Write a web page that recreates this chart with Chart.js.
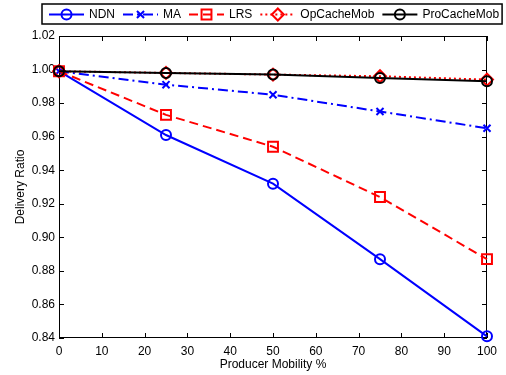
<!DOCTYPE html>
<html>
<head>
<meta charset="utf-8">
<script src="https://cdn.jsdelivr.net/npm/chart.js@4/dist/chart.umd.min.js"></script>
<style>
  html, body { margin: 0; padding: 0; background: #fff; }
  #wrap { width: 506px; height: 375px; }
</style>
</head>
<body>
<div id="wrap"><canvas id="grafico" width="506" height="375"></canvas></div>
<script>
// ================= DATOS =================
const movilidad = [0, 25, 50, 75, 100];
const ndn = [0.999, 0.961, 0.932, 0.887, 0.841];
const ma = [0.999, 0.991, 0.985, 0.975, 0.965];
const lrs = [0.999, 0.973, 0.954, 0.924, 0.887];
const opCacheMob = [0.999, 0.998, 0.997, 0.996, 0.994];
const proCacheMob = [0.999, 0.998, 0.997, 0.995, 0.993];
const xTicks = [0, 10, 20, 30, 40, 50, 60, 70, 80, 90, 100];
const yTicks = [0.84, 0.86, 0.88, 0.90, 0.92, 0.94, 0.96, 0.98, 1.00, 1.02];

const FUENTE = "'Liberation Sans', Arial, Helvetica, sans-serif";

function serie(nombre, valores, color, estilo, radio, dash, orden) {
    return {
        label: nombre,
        data: movilidad.map((x, i) => ({ x, y: valores[i] })),
        borderColor: color,
        borderWidth: 2,
        borderDash: dash,
        pointStyle: estilo,
        pointRadius: radio,
        pointHoverRadius: radio,
        pointBorderColor: color,
        pointBackgroundColor: "rgba(0,0,0,0)",
        pointBorderWidth: 2,
        fill: false,
        tension: 0,
        clip: false,
        order: orden
    };
}

const datasets = [
    serie("NDN", ndn, "#0000ff", "circle", 5, [], 4),
    serie("MA", ma, "#0000ff", "crossRot", 5, [10, 4, 2, 4], 3),
    serie("LRS", lrs, "#ff0000", "rect", 7, [9, 5], 2),
    serie("OpCacheMob", opCacheMob, "#ff0000", "rectRot", 6, [2, 3], 1),
    serie("ProCacheMob", proCacheMob, "#000000", "circle", 5, [], 0)
];

// marco con ticks hacia adentro + leyenda estilo MATLAB
const marcoMatlab = {
    id: "marcoMatlab",
    beforeDatasetsDraw(chart) {
        const { ctx, chartArea: a, scales } = chart;
        ctx.save();
        ctx.strokeStyle = "#000";
        ctx.lineWidth = 1;
        ctx.setLineDash([]);
        ctx.strokeRect(a.left + 0.5, a.top + 0.5, a.right - a.left - 1, a.bottom - a.top - 1);
        const L = 5;
        ctx.beginPath();
        xTicks.forEach(v => {
            const px = Math.round(scales.x.getPixelForValue(v)) + 0.5;
            ctx.moveTo(px, a.bottom); ctx.lineTo(px, a.bottom - L);
            ctx.moveTo(px, a.top); ctx.lineTo(px, a.top + L);
        });
        yTicks.forEach(v => {
            const py = Math.round(scales.y.getPixelForValue(v)) + 0.5;
            ctx.moveTo(a.left, py); ctx.lineTo(a.left + L, py);
            ctx.moveTo(a.right, py); ctx.lineTo(a.right - L, py);
        });
        ctx.stroke();
        ctx.restore();
    },
    afterDraw(chart) {
        const { ctx } = chart;
        ctx.save();
        // leyenda
        const top = 4, alto = 20, cy = top + alto / 2 + 0.5;
        ctx.font = "12px " + FUENTE;
        let x = 49;
        const items = chart.data.datasets.map(d => {
            const ancho = ctx.measureText(d.label).width;
            const it = { d, x, ancho };
            x += 35 + 5 + ancho + 8;
            return it;
        });
        const izq = 42, der = x - 8 + 3;
        ctx.fillStyle = "#fff";
        ctx.fillRect(izq, top, der - izq, alto);
        ctx.lineWidth = 1.5;
        ctx.strokeStyle = "#000";
        ctx.strokeRect(izq, top, der - izq, alto);
        items.forEach(({ d, x }) => {
            ctx.strokeStyle = d.borderColor;
            ctx.lineWidth = 2;
            ctx.setLineDash(d.borderDash);
            ctx.beginPath();
            ctx.moveTo(x, cy); ctx.lineTo(x + 35, cy);
            ctx.stroke();
            ctx.setLineDash([]);
            ctx.fillStyle = "rgba(0,0,0,0)";
            Chart.helpers.drawPoint(ctx, {
                pointStyle: d.pointStyle, radius: d.pointRadius, borderWidth: 2, rotation: 0
            }, x + 17.5, cy);
            ctx.fillStyle = "#000";
            ctx.textBaseline = "middle";
            ctx.textAlign = "left";
            ctx.fillText(d.label, x + 40, cy);
        });
        ctx.restore();
    }
};

new Chart(document.getElementById("grafico"), {
    type: "line",
    data: { datasets },
    options: {
        responsive: false,
        animation: false,
        events: [],
        layout: { padding: { left: 0, right: 19, top: 36, bottom: 0 } },
        plugins: { legend: { display: false }, tooltip: { enabled: false } },
        scales: {
            x: {
                type: "linear",
                min: 0, max: 100,
                afterFit: s => { s.height = 37; },
                afterBuildTicks: s => { s.ticks = xTicks.map(v => ({ value: v })); },
                grid: { display: false, drawTicks: false },
                border: { display: false },
                ticks: { color: "#000", padding: 6, maxRotation: 0, font: { family: FUENTE, size: 12 } },
                title: { display: true, text: "Producer Mobility %", color: "#000",
                         padding: { top: 0, bottom: 3 }, font: { family: FUENTE, size: 12 } }
            },
            y: {
                min: 0.84, max: 1.02,
                afterFit: s => { s.width = 59; },
                afterBuildTicks: s => { s.ticks = yTicks.map(v => ({ value: v })); },
                grid: { display: false, drawTicks: false },
                border: { display: false },
                ticks: { color: "#000", padding: 4, font: { family: FUENTE, size: 12 },
                         callback: v => Number(v).toFixed(2) },
                title: { display: true, text: "Delivery Ratio", color: "#000",
                         padding: { top: 13, bottom: 0 }, font: { family: FUENTE, size: 12 } }
            }
        }
    },
    plugins: [marcoMatlab]
});
</script>
</body>
</html>
